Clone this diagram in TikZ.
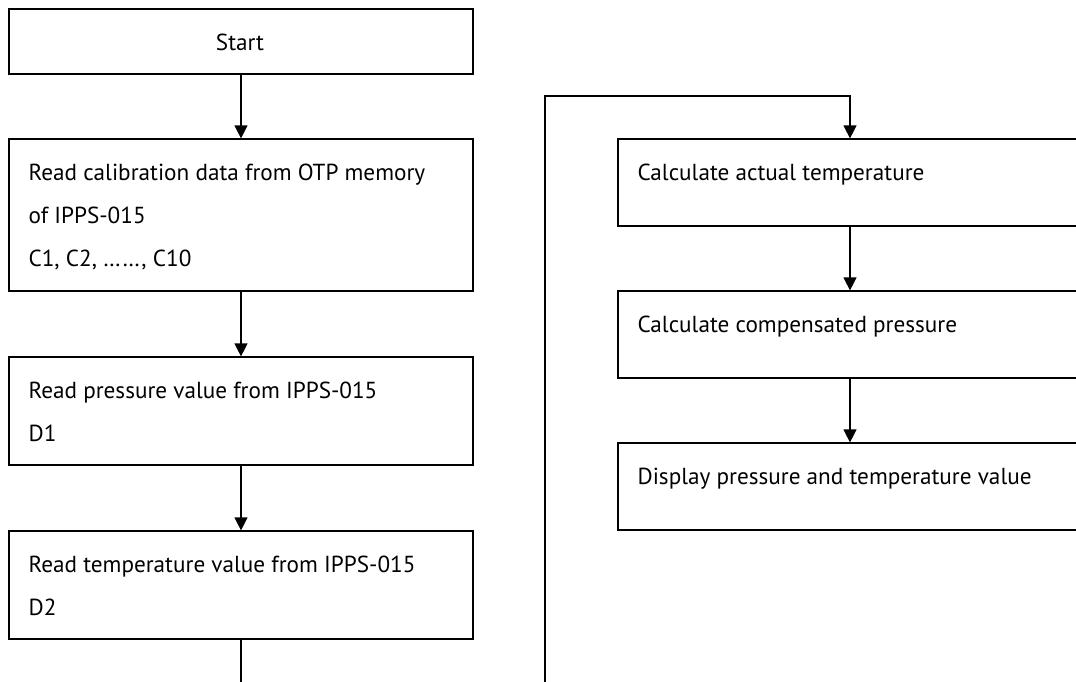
\documentclass[tikz,border=0pt]{standalone}
\usepackage{fontspec}
\setmainfont{PT Sans}
\usetikzlibrary{arrows.meta}

\begin{document}
\begin{tikzpicture}[x=1pt,y=-1pt,line width=1.2pt,
        box/.style={draw,rectangle,minimum width=464pt,inner sep=0pt},
        txt/.style={anchor=base west,inner sep=0pt,font=\fontsize{23.2}{43}\selectfont,align=left},
        arr/.style={-{Triangle[length=13pt,width=13pt]}}]
        \useasboundingbox (0,0) rectangle (1076,681);
        \node[box,minimum height=65pt](start) at (241,41.5) {};
        \node[box,minimum height=152pt](calib) at (241,215) {};
        \node[box,minimum height=108pt](press) at (241,411) {};
        \node[box,minimum height=108pt](temp) at (241,585) {};
        \node[box,minimum height=87pt](calctemp) at (850,182.5) {};
        \node[box,minimum height=87pt](comp) at (850,334.5) {};
        \node[box,minimum height=87pt](disp) at (850,486.5) {};
        \node[txt,anchor=base](starttxt) at (240,50) {Start};
        \node[txt](calibtxt) at (28,266) {Read calibration data from OTP memory\\of IPPS-015\\C1, C2, ……, C10};
        \node[txt](presstxt) at (28,441) {Read pressure value from IPPS-015\\D1};
        \node[txt](temptxt) at (28,615) {Read temperature value from IPPS-015\\D2};
        \node[txt](calctemptxt) at (637,180) {Calculate actual temperature};
        \node[txt](comptxt) at (637,332) {Calculate compensated pressure};
        \node[txt](disptxt) at (637,484) {Display pressure and temperature value};
        \coordinate(tempend) at (241,690);
        \coordinate(loopend) at (545,690);
        \coordinate(looptop) at (545,96);
        \draw[arr](start)--(calib);
        \draw[arr](calib)--(press);
        \draw[arr](press)--(temp);
        \draw(temp)--(tempend);
        \draw[arr](loopend)--(looptop)-|(calctemp);
        \draw[arr](calctemp)--(comp);
        \draw[arr](comp)--(disp);
        \end{tikzpicture}
\end{document}
